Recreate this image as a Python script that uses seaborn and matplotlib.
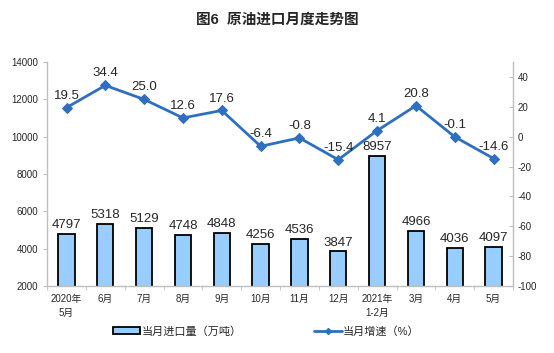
import numpy as np
import pandas as pd
import seaborn as sns
import matplotlib.pyplot as plt
from matplotlib.patches import Patch
from matplotlib.lines import Line2D

# 数据
months = ["2020年\n5月", "6月", "7月", "8月", "9月", "10月", "11月", "12月",
          "2021年\n1-2月", "3月", "4月", "5月"]
volume = [4797, 5318, 5129, 4748, 4848, 4256, 4536, 3847, 8957, 4966, 4036, 4097]
growth = [19.5, 34.4, 25.0, 12.6, 17.6, -6.4, -0.8, -15.4, 4.1, 20.8, -0.1, -14.6]

sns.set_style("white")
plt.rcParams['font.family'] = ['Liberation Sans', 'Noto Sans CJK SC']
plt.rcParams['axes.unicode_minus'] = False

bar_color = "#99CCFF"
line_color = "#2E6FBF"

df = pd.DataFrame({"month": months, "volume": volume, "growth": growth,
                   "pos": np.arange(len(months))})

fig = plt.figure(figsize=(5.54, 3.53), dpi=100)
ax = fig.add_axes([0.085, 0.19, 0.841, 0.634])

# 柱状图：当月进口量
sns.barplot(data=df, x="month", y="volume", ax=ax, color=bar_color,
            edgecolor="black", linewidth=1.3, width=0.42, saturation=1)
ax.set_ylim(2000, 14000)
ax.set_yticks(range(2000, 14001, 2000))
ax.set_xlim(-0.5, len(months) - 0.5)
for i, v in enumerate(volume):
    ax.text(i, v + 150, f"{v}", ha="center", va="bottom", fontsize=9.5)

# 折线图：当月增速
ax2 = ax.twinx()
sns.lineplot(data=df, x="pos", y="growth", ax=ax2, color=line_color,
             linewidth=2.0, marker="D", markersize=5, markeredgecolor=line_color)
ax2.set_ylim(-100, 50)
ax2.set_yticks(range(-100, 41, 20))
ax2.set_xlim(-0.5, len(months) - 0.5)
for i, g in enumerate(growth):
    ax2.text(i, g + 4, f"{g:.1f}", ha="center", va="bottom", fontsize=9.5)

# 坐标轴样式
for a in (ax, ax2):
    for s in a.spines.values():
        s.set_visible(False)
    a.set_xlabel("")
    a.set_ylabel("")
ax.spines["left"].set_visible(True)
ax.spines["bottom"].set_visible(True)
ax2.spines["right"].set_visible(True)
for s in (ax.spines["left"], ax.spines["bottom"], ax2.spines["right"]):
    s.set_color("#BFBFBF")
    s.set_linewidth(1.0)

ax.tick_params(axis="y", labelsize=7, length=3, color="#BFBFBF", left=True)
ax2.tick_params(axis="y", labelsize=7, length=3, color="#BFBFBF", direction="in", right=True)
ax.set_xticks(np.arange(len(months)))
ax.set_xticklabels(months, fontsize=7, linespacing=1.5)
ax.tick_params(axis="x", length=0, pad=6)
ax.set_xticks(np.arange(len(months) + 1) - 0.5, minor=True)
ax.tick_params(axis="x", which="minor", length=3, color="#BFBFBF", bottom=True)
ax2.tick_params(axis="x", bottom=False, labelbottom=False)

fig.suptitle("图6  原油进口月度走势图", x=0.5, y=0.965, fontsize=10.5, fontweight="bold")

handles = [Patch(facecolor=bar_color, edgecolor="black", linewidth=1.3),
           Line2D([0], [0], color=line_color, linewidth=2.0, marker="D", markersize=3)]
labels = ["当月进口量（万吨）", "当月增速（%）"]
fig.legend(handles, labels, loc="center", bbox_to_anchor=(0.48, 0.062), ncol=2,
           frameon=False, fontsize=8, handlelength=2.5, handleheight=0.6,
           handletextpad=0.1, columnspacing=6.5)

plt.savefig("out.png", dpi=100)
